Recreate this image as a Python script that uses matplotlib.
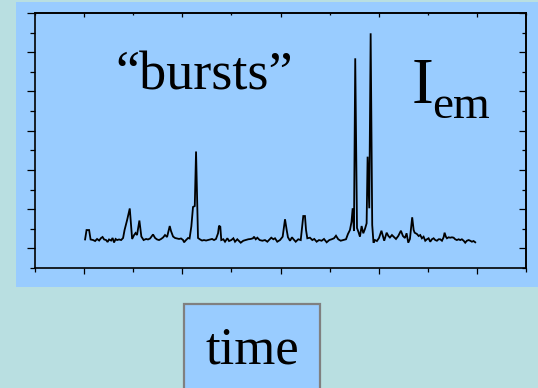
import matplotlib
matplotlib.use("Agg")
import matplotlib.pyplot as plt
from matplotlib.patches import Rectangle
from matplotlib.ticker import MultipleLocator, NullFormatter

# Emission intensity trace (arbitrary units) versus time (arbitrary units)
time = [
    1.0, 2.5, 5.1, 6.6, 9.2, 11.2, 13.2, 15.3, 17.3, 18.8, 20.4, 22.4, 23.9, 25.4,
    27.5, 29.0, 30.5, 32.1, 33.6, 35.6, 37.7, 39.7, 41.2, 43.8, 46.5, 48.9, 50.9,
    52.4, 53.9, 56.3, 58.3, 60.6, 63.1, 65.1,
    67.2, 70.2, 72.3, 74.3, 76.3, 78.4, 80.4, 82.4, 84.5, 87.2, 88.5, 90.6, 92.6,
    94.7, 96.7, 98.7, 100.8, 101.8, 103.8, 105.9, 107.4, 109.2, 110.9, 112.7,
    114.0, 116.0, 118.1, 120.1, 122.1, 124.2, 126.2, 128.2, 130.3, 132.3,
    134.3, 136.4, 137.4, 138.7, 139.7, 141.8, 143.5, 145.9, 147.6, 149.9, 152.0,
    153.7, 156.0, 159.5, 162.1, 164.6, 167.2, 169.7, 172.0, 173.0, 174.8, 176.4,
    178.8, 181.5, 184.2, 186.6, 188.3, 190.6, 192.7, 194.4, 196.7, 199.5,
    202.2, 204.6, 206.3, 207.6, 209.7, 211.7, 213.0, 215.5, 218.1, 220.6, 221.9,
    223.2, 224.9, 226.0, 227.3, 230.0, 232.4, 234.4, 236.8, 239.2, 241.9, 244.3,
    247.0, 249.7, 252.1, 254.5, 256.5, 258.8, 261.3, 263.9, 266.7,
    268.7, 270.7, 272.3, 273.5, 274.8, 276.1, 277.9, 279.4, 280.9, 282.6, 284.3,
    286.0, 287.7, 288.7, 290.4, 291.8, 293.4, 294.7, 296.2, 298.2, 300.3, 302.8,
    304.3, 305.6, 308.1, 309.9, 311.4, 313.5, 315.5, 317.6, 319.9, 322.6, 324.7,
    326.7, 328.4, 330.1, 331.8, 334.1,
    335.6, 336.6, 338.9, 340.7, 342.3, 344.0, 345.7, 347.4, 349.1, 350.8, 352.5,
    354.2, 355.9, 357.6, 359.3, 361.0, 362.6, 364.4, 366.1, 367.1, 368.4, 369.5,
    371.2, 372.8, 374.6, 376.3, 377.9, 379.6, 381.4, 383.0, 384.7, 386.5, 388.1,
    389.8, 391.6, 393.2, 394.9, 396.6, 398.3,
]
intensity = [
    9.1, 18.7, 18.7, 9.1, 8.5, 7.5, 9.6, 8.0, 10.6, 11.6, 9.1, 8.5, 6.5, 9.1,
    8.0, 10.6, 6.0, 9.6, 8.5, 9.1, 8.5, 10.6, 18.7, 28.9, 40.7, 9.6, 13.6,
    15.7, 13.6, 28.4, 12.1, 8.5, 9.6, 9.1,
    10.1, 14.2, 10.6, 9.1, 8.5, 9.6, 11.1, 13.6, 11.6, 22.8, 17.7, 12.1, 10.6,
    10.1, 9.6, 10.1, 8.5, 6.2, 8.5, 10.6, 10.1, 22.3, 42.2, 43.2,
    98.8, 10.6, 9.1, 8.0, 8.5, 8.0, 8.5, 9.1, 9.6, 8.5,
    9.6, 15.4, 23.1, 22.1, 8.5, 9.3, 6.8, 10.3, 7.5, 8.5, 10.3,
    6.8, 9.3, 5.8, 7.8, 8.5, 9.3, 9.6, 10.3, 11.9, 9.3, 10.9,
    8.5, 7.8, 8.5, 6.8, 8.5, 10.9, 9.3, 10.3, 6.8, 8.5,
    11.9, 29.7, 18.7, 11.3, 7.8, 11.3, 9.6, 6.8, 9.3, 8.5, 20.5,
    33.0, 33.0, 18.7, 10.3, 10.9, 8.5, 9.6, 6.8, 8.5, 7.8, 9.6,
    6.2, 8.5, 9.3, 10.3, 12.9, 9.3, 7.8, 8.5, 9.3,
    14.7, 18.7, 26.9, 40.9, 17.7, 193.8, 20.8, 16.7, 11.9, 22.8, 15.4,
    19.8, 25.6, 93.5, 40.9, 219.3, 23.8, 5.8, 8.5, 7.5, 10.6, 18.0,
    12.6, 7.8, 16.0, 12.6, 11.1, 13.6, 11.6, 9.6, 12.6, 18.0, 12.6,
    10.6, 15.4, 5.8, 9.6, 31.7,
    18.7, 16.0, 14.7, 12.6, 13.6, 10.3, 11.9, 7.8, 9.3, 10.3, 6.8,
    9.3, 10.3, 8.5, 7.8, 9.3, 9.3, 7.8, 11.3, 16.0, 11.9, 10.3,
    11.3, 10.9, 11.3, 10.9, 9.3, 8.5, 9.3, 8.5, 9.3, 7.8, 5.8,
    7.8, 8.5, 7.8, 6.8, 7.5, 6.2,
]

BG = "#b9dfe1"
PANEL = "#99ccff"
W, H = 538, 388

fig = plt.figure(figsize=(W / 100, H / 100), dpi=100, facecolor=BG)

# light-blue panel behind the plot
fig.patches.append(Rectangle((16 / W, 1 - 287 / H), 522 / W, 285 / H,
                             transform=fig.transFigure, facecolor=PANEL,
                             edgecolor="none", zorder=-5))

ax = fig.add_axes([35 / W, 1 - 268 / H, 491 / W, 255 / H], facecolor=PANEL)
ax.set_zorder(2)
ax.plot(time, intensity, color="black", lw=1.3, solid_joinstyle="miter")
ax.set_xlim(-50, 450)
ax.set_ylim(-20, 240)

for s in ax.spines.values():
    s.set_linewidth(1.2)
    s.set_color("black")

ax.xaxis.set_major_locator(MultipleLocator(100))
ax.xaxis.set_minor_locator(MultipleLocator(50))
ax.yaxis.set_major_locator(MultipleLocator(40))
ax.yaxis.set_minor_locator(MultipleLocator(20))
ax.xaxis.set_major_formatter(NullFormatter())
ax.yaxis.set_major_formatter(NullFormatter())
ax.tick_params(axis="y", which="major", direction="out", length=5.8, width=0.9,
               left=True, right=False)
ax.tick_params(axis="y", which="minor", direction="out", length=3.6, width=0.9,
               left=True, right=False)
ax.tick_params(axis="x", which="major", direction="out", length=4.4, width=0.9,
               bottom=True, top=False)
ax.tick_params(axis="x", which="minor", direction="out", length=2.6, width=0.9,
               bottom=True, top=False)

# inward ticks on the right and top edges
sy = ax.secondary_yaxis("right")
sy.yaxis.set_major_locator(MultipleLocator(40))
sy.yaxis.set_minor_locator(MultipleLocator(20))
sy.yaxis.set_major_formatter(NullFormatter())
sy.tick_params(which="major", direction="in", length=5.0, width=0.9)
sy.tick_params(which="minor", direction="in", length=3.0, width=0.9)
sy.spines["right"].set_linewidth(1.2)

sx = ax.secondary_xaxis("top")
sx.xaxis.set_major_locator(MultipleLocator(100))
sx.xaxis.set_minor_locator(MultipleLocator(50))
sx.xaxis.set_major_formatter(NullFormatter())
sx.tick_params(which="major", direction="in", length=3.0, width=0.9)
sx.tick_params(which="minor", direction="in", length=1.5, width=0.9)
sx.spines["top"].set_linewidth(1.2)

serif = ["Liberation Serif", "DejaVu Serif"]

fig.text(115 / W, 1 - 89 / H, "\u201cbursts\u201d", family=serif, fontsize=39,
         va="baseline", ha="left", color="black", zorder=5)
fig.text(412 / W, 1 - 103 / H, "I", family=serif, fontsize=47,
         va="baseline", ha="left", color="black", zorder=5)
fig.text(432 / W, 1 - 118 / H, "em", family=serif, fontsize=34,
         va="baseline", ha="left", color="black", zorder=5)

# "time" label box
fig.patches.append(Rectangle((184 / W, -0.02), 136 / W, 0.02 + 1 - 304 / H,
                             transform=fig.transFigure, facecolor=PANEL,
                             edgecolor="#808080", linewidth=1.6, zorder=-5))
fig.text(252 / W, 1 - 363 / H, "time", family=serif, fontsize=38,
         va="baseline", ha="center", color="black", zorder=5)

fig.savefig("out.png", dpi=100, facecolor=BG)
